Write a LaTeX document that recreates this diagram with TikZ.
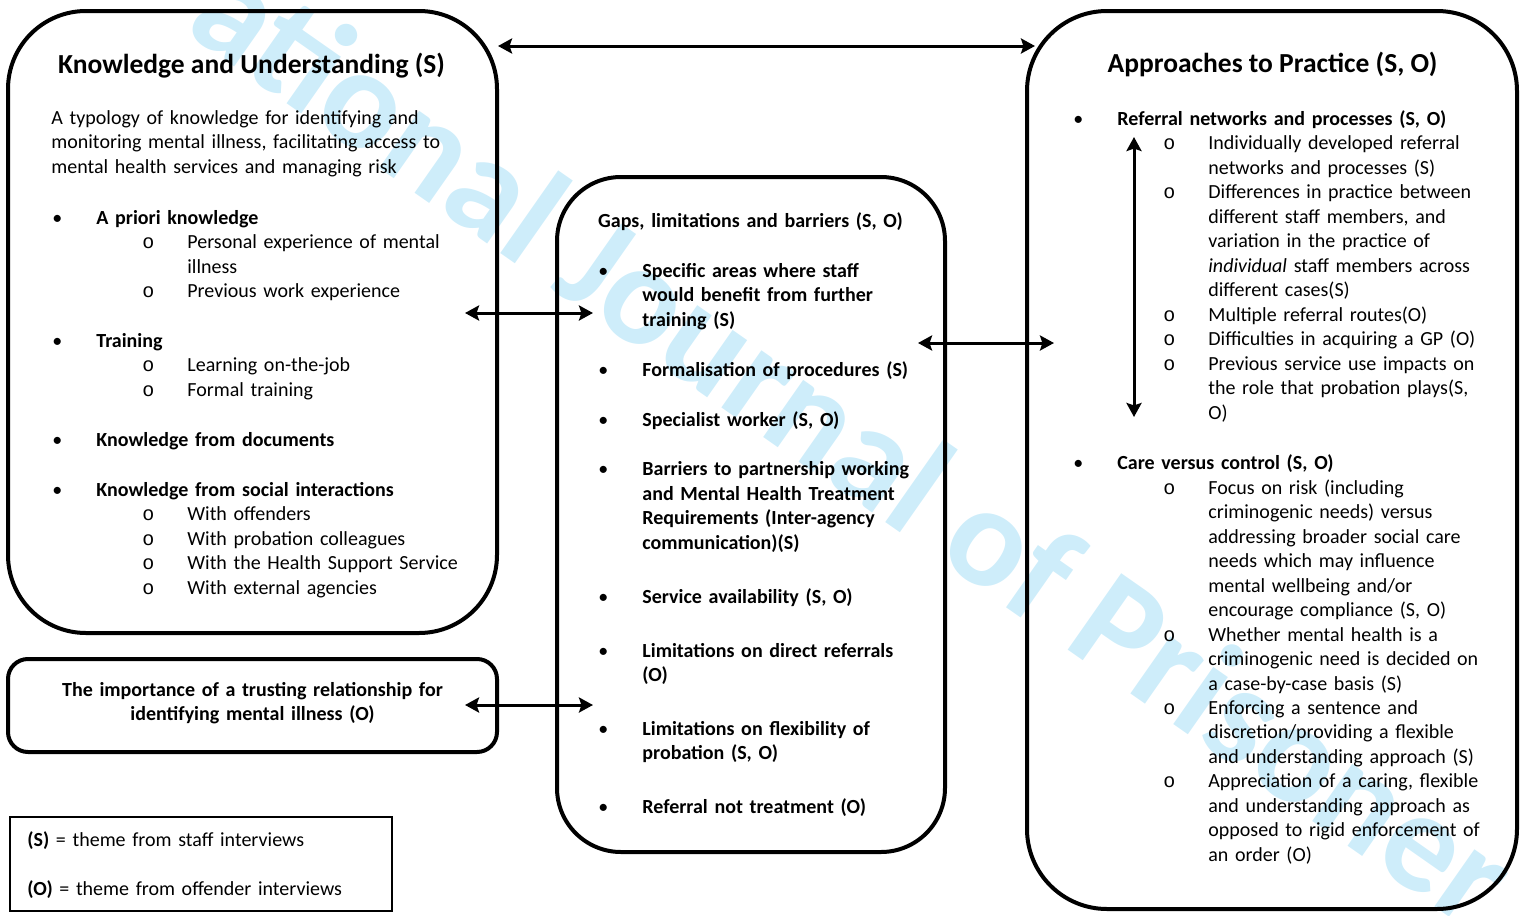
\documentclass[tikz,border=0pt]{standalone}
\usepackage{xcolor}
\usepackage{fontspec}
\setmainfont{Carlito}
\newfontfamily\ringfont{Liberation Mono}
\usetikzlibrary{arrows.meta,positioning}

\definecolor{wmblue}{RGB}{206,237,250}

% puces
\newcommand{\kpoint}[1]{\hangindent=22.5pt\hangafter=1\noindent
  \makebox[22.5pt][l]{\hspace{0.5pt}\textbullet}\textbf{#1}\par}
\newcommand{\ksub}[1]{\hangindent=68pt\hangafter=1\noindent
  \hspace{45.5pt}\makebox[22.5pt][l]{\ringfont o}#1\par}
\newcommand{\gap}[1]{\par\vskip#1}

\tikzset{
  theme/.style={draw, line width=2pt, rounded corners=#1, inner sep=0pt},
  legendbox/.style={draw, line width=0.6pt, inner sep=0pt},
  content/.style={inner sep=0pt, align=left, text width=#1,
    font=\fontsize{10}{12.25}\selectfont,
    execute at begin node={\setlength{\parindent}{0pt}\setlength{\parskip}{0pt}}},
  heading/.style={inner sep=0pt, font=\fontsize{13.75}{16}\selectfont\bfseries},
  twoway/.style={{Stealth[length=7pt,width=7.5pt,inset=1.2pt]}-{Stealth[length=7pt,width=7.5pt,inset=1.2pt]},
    line width=1.5pt},
  watermark/.style={text=wmblue, inner sep=0pt, rotate=-35,
    font=\fontsize{72}{72}\selectfont\bfseries}
}

\begin{document}
\begin{tikzpicture}[x=0.5pt, y=-0.5pt]
    \useasboundingbox (0,0) rectangle (1522,916);
    %\draw[help lines, step=50] (0,0) grid (1522,916);
    \begin{scope}
        \clip (0,0) rectangle (1522,916);
        \node[watermark, anchor=base west] (wm) at (182,30) {ational Journal of Prisoner};
    \end{scope}

    % cadres
    \node[theme=39pt, minimum width=244.5pt, minimum height=311pt] (ku) at (252.5,322) {};
    \node[theme=10pt, minimum width=244.5pt, minimum height=46.5pt] (trust) at (252.5,705.5) {};
    \node[legendbox, minimum width=191pt, minimum height=47pt] (legend) at (201,864) {};
    \node[theme=32pt, minimum width=194pt, minimum height=337.5pt] (gaps) at (751,514.5) {};
    \node[theme=40pt, minimum width=245pt, minimum height=449pt] (practice) at (1272,460) {};

    % titres
    \node[heading, anchor=base] (kutitle) at (251.5,73) {Knowledge and Understanding (S)};
    \node[heading, anchor=base] (practicetitle) at (1272.5,72) {Approaches to Practice (S, O)};
    \node[content=190pt, anchor=base, align=center] (gapstitle) at (750.5,227)
        {\textbf{Gaps, limitations and barriers (S, O)}};

    % Knowledge and Understanding
    \node[content=220pt, anchor=base west] (kutext) at (51,124) {%
        A typology of knowledge for identifying and\newline
        monitoring mental illness, facilitating access to\newline
        mental health services and managing risk
        \gap{13.25pt}
        \kpoint{A priori knowledge}
        \ksub{Personal experience of mental\newline illness}
        \ksub{Previous work experience}
        \gap{12.5pt}
        \kpoint{Training}
        \ksub{Learning on-the-job}
        \ksub{Formal training}
        \gap{12.75pt}
        \kpoint{Knowledge from documents}
        \gap{12.75pt}
        \kpoint{Knowledge from social interactions}
        \ksub{With offenders}
        \ksub{With probation colleagues}
        \ksub{With the Health Support Service}
        \ksub{With external agencies}};

    % Gaps, limitations and barriers
    \node[content=175pt, anchor=base west] (gapstext) at (597,277) {%
        \kpoint{Specific areas where staff\newline would benefit from further\newline training (S)}
        \gap{13pt}
        \kpoint{Formalisation of procedures (S)}
        \gap{12.75pt}
        \kpoint{Specialist worker (S, O)}
        \gap{12.25pt}
        \kpoint{Barriers to partnership working\newline and Mental Health Treatment\newline
            Requirements (Inter-agency\newline communication)(S)}
        \gap{14.75pt}
        \kpoint{Service availability (S, O)}
        \gap{14.75pt}
        \kpoint{Limitations on direct referrals\newline (O)}
        \gap{14.5pt}
        \kpoint{Limitations on flexibility of\newline probation (S, O)}
        \gap{14.75pt}
        \kpoint{Referral not treatment (O)}};

    % Approaches to Practice
    \node[content=220pt, anchor=base west] (practicetext) at (1072,125) {%
        \kpoint{Referral networks and processes (S, O)}
        \ksub{Individually developed referral\newline networks and processes (S)}
        \ksub{Differences in practice between\newline different staff members, and\newline
            variation in the practice of\newline \textit{individual} staff members across\newline
            different cases(S)}
        \ksub{Multiple referral routes(O)}
        \ksub{Difficulties in acquiring a GP (O)}
        \ksub{Previous service use impacts on\newline the role that probation plays(S,\newline O)}
        \gap{13pt}
        \kpoint{Care versus control (S, O)}
        \ksub{Focus on risk (including\newline criminogenic needs) versus\newline
            addressing broader social care\newline needs which may influence\newline
            mental wellbeing and/or\newline encourage compliance (S, O)}
        \ksub{Whether mental health is a\newline criminogenic need is decided on\newline
            a case-by-case basis (S)}
        \ksub{Enforcing a sentence and\newline discretion/providing a flexible\newline
            and understanding approach (S)}
        \ksub{Appreciation of a caring, flexible\newline and understanding approach as\newline
            opposed to rigid enforcement of\newline an order (O)}};

    \node[content=240pt, anchor=base, align=center] (trusttext) at (252.5,696)
        {\textbf{The importance of a trusting relationship for\\identifying mental illness (O)}};

    \node[content=185pt, anchor=base west] (legendtext) at (27,846) {%
        \textbf{(S)} = theme from staff interviews
        \gap{12.25pt}
        \textbf{(O)} = theme from offender interviews};

    % fleches
    \coordinate (kutop) at (498,46);
    \coordinate (practicetop) at (1035,46);
    \coordinate (kuright) at (465,313);
    \coordinate (gapsleft) at (593,313);
    \coordinate (trustright) at (465,705);
    \coordinate (gapslow) at (593,705);
    \coordinate (gapsright) at (918,343);
    \coordinate (practiceleft) at (1054,343);
    \coordinate (reftop) at (1134,137);
    \coordinate (refbottom) at (1134,417);
    \draw[twoway] (kutop) -- (practicetop);
    \draw[twoway] (kuright) -- (gapsleft);
    \draw[twoway] (trustright) -- (gapslow);
    \draw[twoway] (gapsright) -- (practiceleft);
    \draw[twoway] (reftop) -- (refbottom);
\end{tikzpicture}
\end{document}
